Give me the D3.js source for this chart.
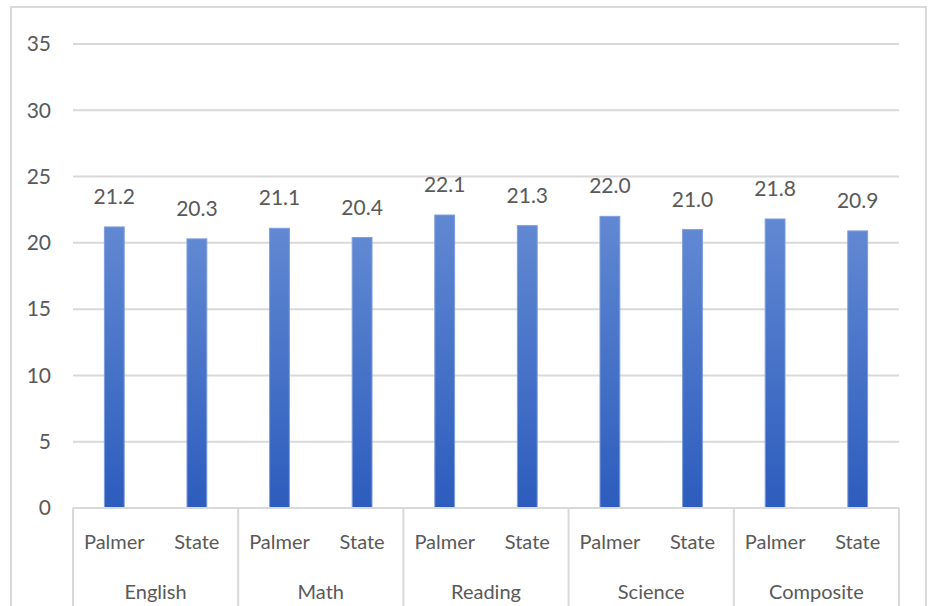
<!DOCTYPE html>
<html>
<head>
<meta charset="utf-8">
<script src="https://cdn.jsdelivr.net/npm/d3@7"></script>
<style>
  html, body { margin: 0; padding: 0; background: #fff; }
  svg { display: block; }
  text { font-family: Lato, "Open Sans", sans-serif; fill: #595959; }
</style>
</head>
<body>
<svg id="chart" width="931" height="606"></svg>
<script>
// ACT average scores, Palmer vs. State, by subject
const subjects = ["English", "Math", "Reading", "Science", "Composite"];
const groups = ["Palmer", "State"];
const palmerScores = [21.2, 21.1, 22.1, 22.0, 21.8];
const stateScores = [20.3, 20.4, 21.3, 21.0, 20.9];
const yTicks = [0, 5, 10, 15, 20, 25, 30, 35];

const rows = [];
subjects.forEach((s, i) => {
  rows.push({ subject: s, group: "Palmer", value: palmerScores[i] });
  rows.push({ subject: s, group: "State", value: stateScores[i] });
});

const svg = d3.select("#chart");
const W = 931, H = 606;
const plot = { left: 73, right: 899, top: 44, bottom: 508 };
const grey = "#d9d9d9";

// chart frame
svg.append("rect")
  .attr("x", 11).attr("y", 7)
  .attr("width", 915).attr("height", 620)
  .attr("fill", "#fff").attr("stroke", grey).attr("stroke-width", 2);

const y = d3.scaleLinear().domain([0, 35]).range([plot.bottom, plot.top]);
const x = d3.scaleBand()
  .domain(rows.map((d, i) => i))
  .range([plot.left, plot.right])
  .paddingInner(0.76)
  .paddingOuter(0.38);
const xg = d3.scaleBand().domain(subjects).range([plot.left, plot.right]);

// gridlines
svg.append("g").selectAll("line").data(yTicks).join("line")
  .attr("x1", plot.left).attr("x2", plot.right)
  .attr("y1", d => y(d)).attr("y2", d => y(d))
  .attr("stroke", grey).attr("stroke-width", 2);

// y-axis labels
const yAxis = d3.axisLeft(y).tickValues(yTicks).tickSize(0).tickPadding(0);
const yg = svg.append("g").attr("transform", "translate(51,0)").call(yAxis);
yg.select(".domain").remove();
yg.selectAll("text").attr("font-size", 21).attr("fill", "#595959")
  .style("font-family", "Lato, 'Open Sans', sans-serif");

// bar gradient
const defs = svg.append("defs");
const grad = defs.append("linearGradient").attr("id", "barGrad")
  .attr("x1", 0).attr("y1", 0).attr("x2", 0).attr("y2", 1);
grad.append("stop").attr("offset", "0%").attr("stop-color", "#6188d2");
grad.append("stop").attr("offset", "100%").attr("stop-color", "#2c5cbd");

// bars
svg.append("g").selectAll("rect").data(rows).join("rect")
  .attr("x", (d, i) => x(i))
  .attr("y", d => y(d.value))
  .attr("width", x.bandwidth())
  .attr("height", d => y(0) - y(d.value))
  .attr("fill", "url(#barGrad)")
  .attr("stroke", "#7d9ddc").attr("stroke-width", 1);

// value labels
svg.append("g").selectAll("text").data(rows).join("text")
  .attr("x", (d, i) => x(i) + x.bandwidth() / 2)
  .attr("y", d => y(d.value) - 23)
  .attr("text-anchor", "middle")
  .attr("font-size", 21)
  .text(d => d.value.toFixed(1));

// multi-level category axis
const axisG = svg.append("g");
axisG.append("line")
  .attr("x1", plot.left).attr("x2", plot.right)
  .attr("y1", plot.bottom).attr("y2", plot.bottom)
  .attr("stroke", grey).attr("stroke-width", 2);
const seps = subjects.map(s => xg(s)).concat([plot.right]);
axisG.selectAll("line.sep").data(seps).join("line").attr("class", "sep")
  .attr("x1", d => d).attr("x2", d => d)
  .attr("y1", plot.bottom).attr("y2", H + 10)
  .attr("stroke", grey).attr("stroke-width", 2);

axisG.selectAll("text.grp").data(rows).join("text").attr("class", "grp")
  .attr("x", (d, i) => x(i) + x.bandwidth() / 2)
  .attr("y", 549)
  .attr("text-anchor", "middle")
  .attr("font-size", 20)
  .text(d => d.group);

axisG.selectAll("text.subj").data(subjects).join("text").attr("class", "subj")
  .attr("x", d => xg(d) + xg.bandwidth() / 2)
  .attr("y", 599)
  .attr("text-anchor", "middle")
  .attr("font-size", 20)
  .text(d => d);
</script>
</body>
</html>
